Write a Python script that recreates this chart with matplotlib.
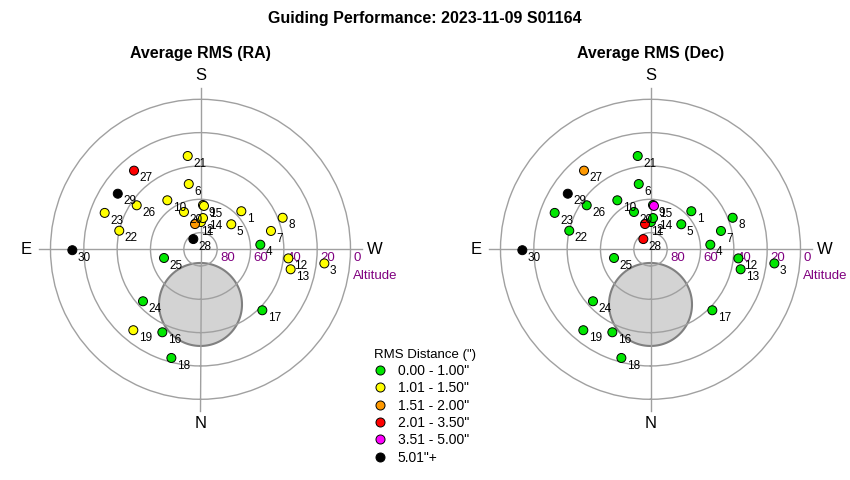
import matplotlib.pyplot as plt
import numpy as np
from matplotlib.lines import Line2D

plt.rcParams['font.family'] = ['Liberation Sans', 'DejaVu Sans']

# target numbers with their sky position (degrees)
targets = list(range(1, 31))
azimuth = [227.0, 181.0, 276.5, 265.6, 230.9, 169.8, 255.4, 249.0, 183.2, 145.9,
           167.7, 275.9, 282.5, 184.6, 184.6, 24.7, 314.6, 15.0, 39.7, 156.1,
           172.2, 102.9, 110.8, 47.9, 76.6, 124.6, 139.8, 145.0, 123.9, 89.6]
altitude = [56.5, 73.6, 15.2, 54.0, 66.2, 50.2, 46.3, 37.2, 63.4, 54.5,
            74.5, 37.0, 34.6, 71.2, 63.9, 35.2, 37.9, 22.5, 26.9, 65.5,
            33.5, 40.0, 28.5, 43.5, 67.5, 43.5, 28.2, 82.5, 30.2, 13.1]

# RMS class of each target (index into bin_labels)
ra_bin = [1, 1, 1, 0, 1, 1, 1, 1, 1, 1,
          2, 1, 1, 1, 1, 0, 0, 0, 1, 1,
          1, 1, 1, 0, 0, 1, 3, 5, 5, 5]
dec_bin = [0, 0, 0, 0, 0, 0, 0, 0, 0, 0,
           3, 0, 0, 0, 4, 0, 0, 0, 0, 0,
           0, 0, 0, 0, 0, 0, 2, 3, 5, 5]

bin_labels = ['0.00 - 1.00"', '1.01 - 1.50"', '1.51 - 2.00"',
              '2.01 - 3.50"', '3.51 - 5.00"', '5.01"+']
bin_colors = ['#00e600', '#ffff00', '#ff9900', '#ff0000', '#ff00ff', '#000000']

alt_ticks = [80, 60, 40, 20, 0]

# grey disc (pier / moon area)
disc_az = 0.0
disc_alt = 56.9
disc_radius = 24.9

GRID = '#a0a0a0'


def draw_sky(ax, bins, title):
    ax.set_theta_zero_location('S')
    ax.set_theta_direction(-1)
    ax.set_rlim(0, 90)
    ax.set_xticks([])
    ax.set_rticks([90 - a for a in alt_ticks[:-1]])
    ax.set_yticklabels([])
    ax.yaxis.grid(True, color=GRID, lw=1)
    ax.spines['polar'].set_color(GRID)
    ax.spines['polar'].set_linewidth(1)

    # cross lines, a bit longer than the horizon circle
    for a in [0, 90, 180, 270]:
        ax.plot([np.radians(a)] * 2, [0, 97], color=GRID, lw=1,
                clip_on=False, zorder=2)

    # grey disc
    t = np.linspace(0, 2 * np.pi, 200)
    zd = 90 - disc_alt
    cx = zd * np.cos(np.radians(disc_az))
    cy = zd * np.sin(np.radians(disc_az))
    px = cx + disc_radius * np.cos(t)
    py = cy + disc_radius * np.sin(t)
    ax.fill(np.unwrap(np.arctan2(py, px)), np.hypot(px, py),
            facecolor='#d3d3d3', edgecolor='#808080', lw=1.5, zorder=1)

    theta = np.radians(azimuth)
    r = 90 - np.array(altitude)
    cols = [bin_colors[b] for b in bins]
    ax.scatter(theta, r, c=cols, s=42, edgecolors='black', linewidths=0.7,
               zorder=5)
    for n, th, rr in zip(targets, theta, r):
        ax.annotate(str(n), (th, rr), xytext=(4, -5.5),
                    textcoords='offset points', fontsize=8.5,
                    ha='left', va='center', zorder=6)

    for a in alt_ticks:
        ax.annotate(str(a), (np.radians(270), 90 - a), xytext=(2.2, -6.5),
                    textcoords='offset points', fontsize=9.5,
                    color='purple', ha='left', va='center')
    ax.annotate('Altitude', (np.radians(270), 90), xytext=(18, -19),
                textcoords='offset points', fontsize=9.5,
                color='purple', ha='center', va='center')

    for name, a in [('N', 0), ('E', 90), ('S', 180), ('W', 270)]:
        ax.text(np.radians(a), 104.5, name, fontsize=12,
                ha='center', va='center')

    ax.text(0.5, 1.153, title, transform=ax.transAxes, fontsize=11.5,
            fontweight='bold', ha='center', va='center')


def main():
    fig = plt.figure(figsize=(8.5, 4.8), dpi=100)
    ax1 = fig.add_axes([50.5 / 850, 1 - 399.3 / 480, 300 / 850, 300 / 480],
                       projection='polar')
    ax2 = fig.add_axes([500.5 / 850, 1 - 399.3 / 480, 300 / 850, 300 / 480],
                       projection='polar')
    draw_sky(ax1, ra_bin, 'Average RMS (RA)')
    draw_sky(ax2, dec_bin, 'Average RMS (Dec)')

    fig.text(0.5, 1 - 18 / 480, 'Guiding Performance: 2023-11-09 S01164',
             fontsize=11.5, fontweight='bold', ha='center', va='center')

    handles = [Line2D([], [], ls='', marker='o', markersize=6.5,
                      markerfacecolor=c, markeredgecolor='black',
                      markeredgewidth=0.7) for c in bin_colors]
    fig.legend(handles, bin_labels, loc='upper left',
               bbox_to_anchor=(368 / 850, 1 - 343 / 480), frameon=False,
               title='RMS Distance (")', fontsize=10, title_fontsize=9.5,
               alignment='left', labelspacing=0.24, borderaxespad=0,
               handlelength=0.9, handletextpad=0.85)

    fig.savefig('out.png', dpi=100)


if __name__ == '__main__':
    main()
